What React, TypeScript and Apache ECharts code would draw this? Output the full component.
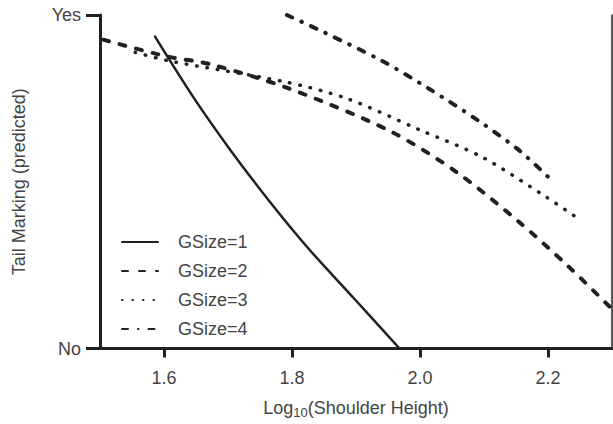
import React, { useEffect, useRef } from "react";
import * as echarts from "echarts";

const seriesNames = ["GSize=1", "GSize=2", "GSize=3", "GSize=4"];

const gsize1: [number, number][] = [
  [1.586, 0.935], [1.645, 0.756], [1.703, 0.597], [1.765, 0.441],
  [1.827, 0.297], [1.897, 0.15], [1.968, 0.0],
];
const gsize2: [number, number][] = [
  [1.505, 0.926], [1.604, 0.876], [1.671, 0.853], [1.796, 0.779],
  [1.952, 0.653], [2.057, 0.529], [2.155, 0.379], [2.233, 0.244], [2.296, 0.126],
];
const gsize3: [number, number][] = [
  [1.555, 0.888], [1.609, 0.862], [1.788, 0.8], [1.885, 0.75],
  [1.999, 0.656], [2.097, 0.574], [2.191, 0.462], [2.244, 0.394],
];
const gsize4: [number, number][] = [
  [1.792, 1.0], [1.848, 0.95], [1.941, 0.862], [2.014, 0.779],
  [2.092, 0.682], [2.155, 0.594], [2.2, 0.515],
];

const xTicks = [1.6, 1.8, 2.0, 2.2];
const yTickLabels = ["No", "Yes"];

const INK = "#231f20";
const TEXT = "#444444";
const FONT = "Liberation Sans, Arial, sans-serif";

export default function App() {
  const ref = useRef<HTMLDivElement>(null);
  useEffect(() => {
    document.body.style.margin = "0";
    if (!ref.current) return;
    const chart = echarts.init(ref.current, null, { renderer: "svg" });
    const mk = (name: string, data: [number, number][], width: number, type: any) => ({
      name,
      type: "line",
      data,
      smooth: 0.3,
      symbol: "none",
      clip: true,
      lineStyle: { color: INK, width, type, cap: "round" },
      itemStyle: { color: INK },
    });
    chart.setOption({
      animation: false,
      textStyle: { fontFamily: FONT },
      grid: { left: 100, right: 1, top: 15, bottom: 69 },
      legend: {
        orient: "vertical",
        left: 116,
        top: 228,
        itemWidth: 36,
        itemHeight: 14,
        itemGap: 11,
        data: seriesNames,
        itemStyle: { opacity: 0 },
        textStyle: { fontSize: 18, color: TEXT, fontFamily: FONT, padding: [0, 0, 0, 15] },
        lineStyle: { cap: "round" },
      },
      xAxis: [
        {
          type: "value",
          min: 1.5,
          max: 2.3,
          name: "{a|Log}{b|10}{a|(Shoulder Height)}",
          nameLocation: "middle",
          nameGap: 48,
          nameTextStyle: {
            rich: {
              a: { fontSize: 18, color: TEXT, fontFamily: FONT, lineHeight: 22 },
              b: { fontSize: 13, color: TEXT, fontFamily: FONT, lineHeight: 22, padding: [10, 0, 0, 0] },
            },
          },
          axisLine: { show: true, lineStyle: { color: INK, width: 3 } },
          axisTick: { show: true, length: 9, lineStyle: { color: INK, width: 3 }, customValues: xTicks },
          axisLabel: {
            customValues: xTicks,
            fontSize: 18,
            color: TEXT,
            margin: 20,
            formatter: (v: number) => v.toFixed(1),
          },
          splitLine: { show: false },
        },
        {
          type: "value",
          position: "top",
          min: 1.5,
          max: 2.3,
          axisLine: { show: true, lineStyle: { color: INK, width: 3 } },
          axisTick: { show: false },
          axisLabel: { show: false },
          splitLine: { show: false },
        },
      ],
      yAxis: [
        {
          type: "value",
          min: 0,
          max: 1,
          interval: 1,
          name: "Tail Marking (predicted)",
          nameLocation: "middle",
          nameGap: 72,
          nameTextStyle: { fontSize: 18, color: TEXT, fontFamily: FONT },
          axisLine: { show: true, lineStyle: { color: INK, width: 3 } },
          axisTick: { show: true, length: 14, lineStyle: { color: INK, width: 3 } },
          axisLabel: {
            fontSize: 18,
            color: TEXT,
            margin: 19,
            formatter: (v: number) => yTickLabels[Math.round(v)],
          },
          splitLine: { show: false },
        },
        {
          type: "value",
          position: "right",
          min: 0,
          max: 1,
          axisLine: { show: true, lineStyle: { color: INK, width: 1.5 } },
          axisTick: { show: false },
          axisLabel: { show: false },
          splitLine: { show: false },
        },
      ],
      series: [
        mk(seriesNames[0], gsize1, 2.5, "solid"),
        mk(seriesNames[1], gsize2, 4, [6, 11]),
        mk(seriesNames[2], gsize3, 3.5, [0.5, 10]),
        mk(seriesNames[3], gsize4, 4, [6, 10, 0.5, 10]),
      ],
    });
    return () => chart.dispose();
  }, []);
  return <div ref={ref} style={{ width: 613, height: 424 }} />;
}
